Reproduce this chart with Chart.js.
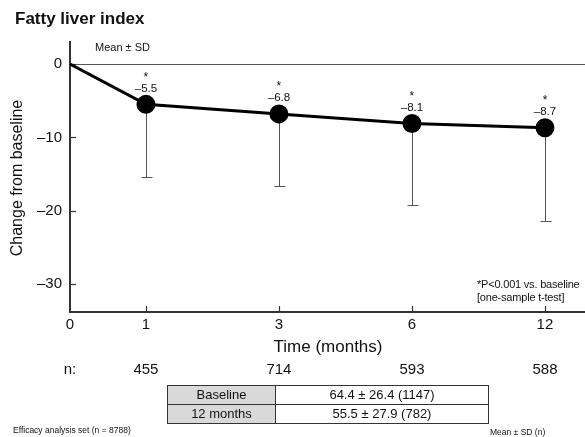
<!DOCTYPE html>
<html>
<head>
<meta charset="utf-8">
<title>Fatty liver index</title>
<script src="https://cdn.jsdelivr.net/npm/chart.js"></script>
<style>
  body { margin: 0; background: #fff; font-family: "Liberation Sans", Arial, sans-serif; color: #111; }
  #wrap { position: relative; width: 585px; height: 437px; overflow: hidden; }
  #chart { position: absolute; left: 0; top: 0; }
  .txt { position: absolute; white-space: nowrap; }
  #title { left: 15px; top: 9px; font-size: 17px; font-weight: bold; }
  #meansd { left: 95px; top: 41px; font-size: 11px; }
  #pnote { left: 477px; top: 278px; font-size: 11px; line-height: 13px; letter-spacing: -0.2px; }
  #eff { left: 13px; top: 425px; font-size: 8.5px; }
  #tnote { left: 490px; top: 427px; font-size: 8.5px; }
  #tbl { position: absolute; left: 167px; top: 385px; border-collapse: collapse; font-size: 13px; }
  #tbl td { border: 1px solid #333; height: 18px; padding: 0; text-align: center; line-height: 18px; }
  #tbl td.h { background: #d9d9d9; width: 107px; }
  #tbl td.v { width: 212px; }
</style>
</head>
<body>
<div id="wrap">
  <canvas id="chart" width="585" height="437"></canvas>
  <div class="txt" id="title">Fatty liver index</div>
  <div class="txt" id="meansd">Mean ± SD</div>
  <div class="txt" id="pnote">*P&lt;0.001 vs. baseline<br>[one-sample t-test]</div>
  <table id="tbl"></table>
  <div class="txt" id="eff">Efficacy analysis set (n = 8788)</div>
  <div class="txt" id="tnote">Mean ± SD (n)</div>
</div>
<script>
  // values
  const months = [0, 1, 3, 6, 12];
  const meanChange = [0, -5.5, -6.8, -8.1, -8.7];
  const sdChange = [0, 9.9, 9.8, 11.1, 12.7];
  const nCounts = [null, 455, 714, 593, 588];
  const yTicks = [0, -10, -20, -30];
  const tableLabels = ['Baseline', '12 months'];
  const tableValues = ['64.4 ± 26.4 (1147)', '55.5 ± 27.9 (782)'];

  // visits are spaced evenly, except the short gap between 0 and 1 month
  function slot(i) { return i === 0 ? 0 : 0.571 + (i - 1); }
  const dash = v => String(v).replace('-', '–');
  const FONT = '"Liberation Sans", Arial, sans-serif';

  const tbl = document.getElementById('tbl');
  tableLabels.forEach((lab, i) => {
    const tr = document.createElement('tr');
    tr.innerHTML = '<td class="h">' + lab + '</td><td class="v">' + tableValues[i] + '</td>';
    tbl.appendChild(tr);
  });

  const extras = {
    id: 'extras',
    beforeDatasetsDraw(chart) {
      const { ctx, chartArea: a, scales: { x, y } } = chart;
      ctx.save();
      // zero reference line
      ctx.strokeStyle = '#555';
      ctx.lineWidth = 1.2;
      const y0 = Math.round(y.getPixelForValue(0)) + 0.5;
      ctx.beginPath(); ctx.moveTo(a.left, y0); ctx.lineTo(a.right, y0); ctx.stroke();
      // inward tick marks
      ctx.strokeStyle = '#333';
      ctx.lineWidth = 1.2;
      yTicks.forEach(t => {
        const py = Math.round(y.getPixelForValue(t)) + 0.5;
        ctx.beginPath(); ctx.moveTo(a.left, py); ctx.lineTo(a.left + 6, py); ctx.stroke();
      });
      months.forEach((m, i) => {
        if (i === 0) return;
        const px = Math.round(x.getPixelForValue(slot(i))) + 0.5;
        ctx.beginPath(); ctx.moveTo(px, a.bottom); ctx.lineTo(px, a.bottom - 6); ctx.stroke();
      });
      // lower SD bars
      ctx.strokeStyle = '#555';
      ctx.lineWidth = 1;
      months.forEach((m, i) => {
        if (!sdChange[i]) return;
        const px = Math.round(x.getPixelForValue(slot(i))) + 0.5;
        const top = y.getPixelForValue(meanChange[i]);
        const bot = Math.round(y.getPixelForValue(meanChange[i] - sdChange[i])) + 0.5;
        ctx.beginPath();
        ctx.moveTo(px, top); ctx.lineTo(px, bot);
        ctx.moveTo(px - 5, bot); ctx.lineTo(px + 6, bot);
        ctx.stroke();
      });
      ctx.restore();
    },
    afterDraw(chart) {
      const { ctx, chartArea: a, scales: { x, y } } = chart;
      ctx.save();
      ctx.fillStyle = '#111';
      ctx.textAlign = 'center';
      ctx.textBaseline = 'middle';
      // star + value labels
      months.forEach((m, i) => {
        if (i === 0) return;
        const px = x.getPixelForValue(slot(i));
        const py = y.getPixelForValue(meanChange[i]);
        ctx.font = '12px ' + FONT;
        ctx.fillText('*', px, py - 27);
        ctx.font = '11.5px ' + FONT;
        ctx.fillText(dash(meanChange[i]), px, py - 16);
      });
      // axis titles
      ctx.font = '17px ' + FONT;
      ctx.fillText('Time (months)', 328, 347);
      ctx.save();
      ctx.translate(18, (a.top + a.bottom) / 2 + 1);
      ctx.rotate(-Math.PI / 2);
      ctx.font = '16px ' + FONT;
      ctx.fillText('Change from baseline', 0, 0);
      ctx.restore();
      // n row
      ctx.font = '15px ' + FONT;
      months.forEach((m, i) => {
        const px = x.getPixelForValue(slot(i));
        ctx.fillText(i === 0 ? 'n:' : String(nCounts[i]), px, 370);
      });
      ctx.restore();
    }
  };

  new Chart(document.getElementById('chart'), {
    type: 'line',
    data: {
      datasets: [{
        data: months.map((m, i) => ({ x: slot(i), y: meanChange[i] })),
        borderColor: '#000',
        borderWidth: 3,
        backgroundColor: '#000',
        pointRadius: months.map((m, i) => i === 0 ? 0 : 8),
        pointHoverRadius: 8,
        tension: 0
      }]
    },
    options: {
      responsive: false,
      animation: false,
      events: [],
      layout: { autoPadding: false, padding: { top: 42, right: 0, left: 0, bottom: 0 } },
      plugins: { legend: { display: false }, tooltip: { enabled: false } },
      scales: {
        x: {
          type: 'linear',
          min: 0,
          max: 3.872,
          afterBuildTicks: s => { s.ticks = months.map((m, i) => ({ value: slot(i) })); },
          afterFit: s => { s.height = 125; s.paddingLeft = 0; s.paddingRight = 0; },
          grid: { display: false, drawTicks: false },
          border: { color: '#333', width: 2 },
          ticks: {
            padding: 4,
            color: '#111',
            font: { family: FONT, size: 15 },
            maxRotation: 0,
            callback: (v, i) => String(months[i])
          }
        },
        y: {
          min: -33.8,
          max: 3,
          afterBuildTicks: s => { s.ticks = yTicks.map(v => ({ value: v })); },
          afterFit: s => { s.width = 70; s.paddingTop = 0; s.paddingBottom = 0; },
          grid: { display: false, drawTicks: false },
          border: { color: '#333', width: 2 },
          ticks: {
            padding: 8,
            color: '#111',
            font: { family: FONT, size: 15 },
            callback: v => dash(v)
          }
        }
      }
    },
    plugins: [extras]
  });
</script>
</body>
</html>
